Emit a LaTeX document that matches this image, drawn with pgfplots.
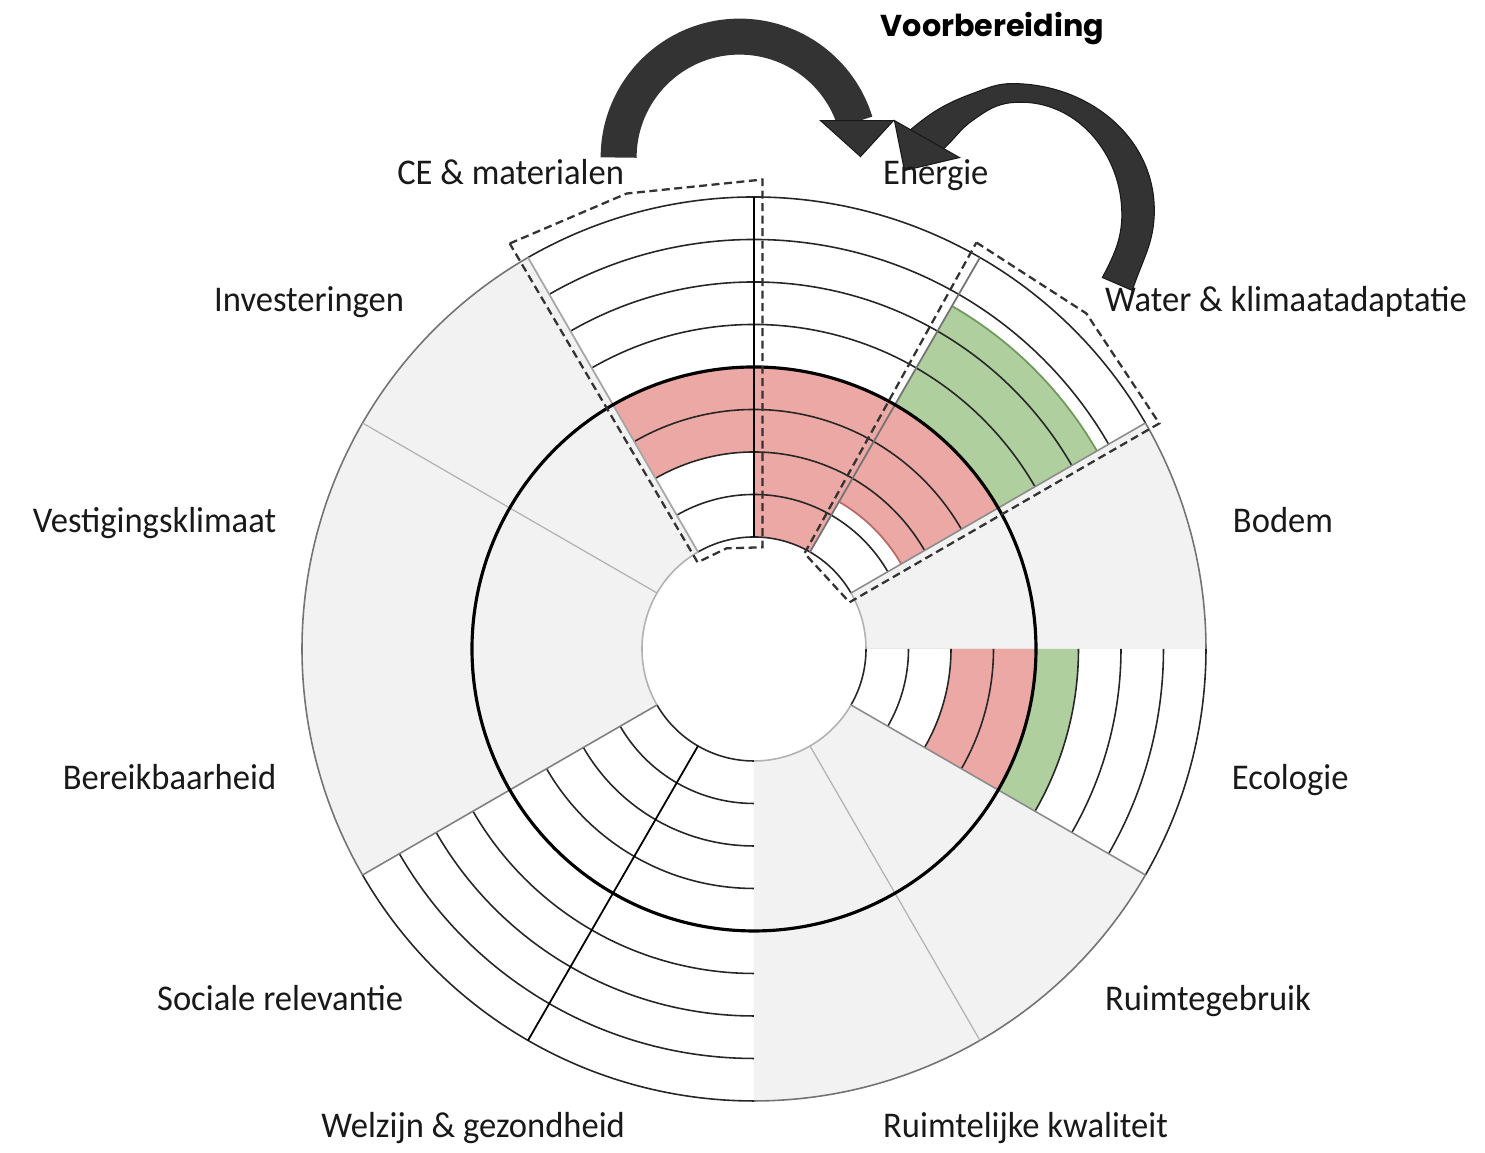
\documentclass[border=0pt]{standalone}
\usepackage{fontspec}
\setmainfont{Carlito}
\newfontfamily\labelfont{Carlito}[FakeStretch=0.955]
\newfontfamily\titlefont{Poppins}
\usepackage{pgfplots}
\pgfplotsset{compat=1.18}
\usepgfplotslibrary{polar}
\definecolor{grayfill}{HTML}{F2F2F2}
\definecolor{redfill}{HTML}{EBA8A4}
\definecolor{rededge}{HTML}{B86A66}
\definecolor{greenfill}{HTML}{AFCF9E}
\definecolor{greenedge}{HTML}{6E9A5A}
\definecolor{arrowcol}{HTML}{333333}
\begin{document}
\begin{tikzpicture}
\path[use as bounding box] (0,0) rectangle (14.85cm,11.53cm);
\begin{polaraxis}[
  at={(7.54cm,5.04cm)}, anchor=center,
  width=9.04cm, height=9.04cm, scale only axis,
  xmin=0, xmax=360, ymin=0, ymax=452,
  hide axis, clip=false,
]
% ---- grey (not assessed) sectors: Bodem, Ruimtegebruik + Ruimtelijke kwaliteit, Bereikbaarheid + Vestigingsklimaat + Investeringen
\addplot[draw=none, fill=grayfill, domain=0:30, samples=31] {452} -- (axis cs:0,0) -- cycle;
\addplot[draw=none, fill=grayfill, domain=-90:-30, samples=61] {452} -- (axis cs:0,0) -- cycle;
\addplot[draw=none, fill=grayfill, domain=120:210, samples=91] {452} -- (axis cs:0,0) -- cycle;
% ---- Water & klimaatadaptatie (30-60): red 170-282, green 282-396
\addplot[draw=none, fill=greenfill, domain=30:60, samples=31] {396} -- (axis cs:0,0) -- cycle;
\addplot[draw=none, fill=redfill, domain=30:60, samples=31] {282} -- (axis cs:0,0) -- cycle;
\addplot[draw=none, fill=white, domain=30:60, samples=31] {170} -- (axis cs:0,0) -- cycle;
% ---- Energie (60-90): red 112-282
\addplot[draw=none, fill=redfill, domain=60:90, samples=31] {282} -- (axis cs:0,0) -- cycle;
% ---- CE & materialen (90-120): red 197-282
\addplot[draw=none, fill=redfill, domain=90:120, samples=31] {282} -- (axis cs:0,0) -- cycle;
\addplot[draw=none, fill=white, domain=90:120, samples=31] {197} -- (axis cs:0,0) -- cycle;
% ---- Ecologie (-30-0): red 197-282, green 282-324.5
\addplot[draw=none, fill=greenfill, domain=-30:0, samples=31] {324.5} -- (axis cs:0,0) -- cycle;
\addplot[draw=none, fill=redfill, domain=-30:0, samples=31] {282} -- (axis cs:0,0) -- cycle;
\addplot[draw=none, fill=white, domain=-30:0, samples=31] {197} -- (axis cs:0,0) -- cycle;
% ---- central hole
\addplot[draw=none, fill=white, domain=0:360, samples=181] {112} -- cycle;
% ---- band edges
\addplot[greenedge, line width=0.5pt, domain=30:60, samples=31] {396};
\addplot[rededge, line width=0.5pt, domain=30:60, samples=31] {170};
% ---- ring lines in assessed sectors
\pgfplotsinvokeforeach{112,154.5,197,239.5,324.5,367,409.5,452}{
  \addplot[black!85, line width=0.45pt, domain=30:120, samples=91] {#1};
  \addplot[black!85, line width=0.45pt, domain=-30:0, samples=31] {#1};
  \addplot[black!85, line width=0.45pt, domain=-150:-90, samples=61] {#1};
}
% ---- outer and inner edges of grey sectors
\pgfplotsinvokeforeach{0:30,-90:-30,120:210}{
  \addplot[black!55, line width=0.45pt, domain=#1, samples=91] {452};
  \addplot[black!30, line width=0.45pt, domain=#1, samples=91] {112};
}
% ---- radial sector boundaries
\addplot[black, line width=0.5pt] coordinates {(90,112) (90,452)};
\addplot[black, line width=0.5pt] coordinates {(-120,112) (-120,452)};
\addplot[black!55, line width=0.5pt] coordinates {(60,112) (60,452)};
\addplot[black!35, line width=0.5pt] coordinates {(120,112) (120,452)};
\addplot[black!45, line width=0.45pt] coordinates {(30,112) (30,452)};
\addplot[black!45, line width=0.45pt] coordinates {(-30,112) (-30,452)};
\addplot[black!30, line width=0.35pt] coordinates {(-60,112) (-60,452)};
\addplot[black!50, line width=0.45pt] coordinates {(-150,112) (-150,452)};
\addplot[black!30, line width=0.35pt] coordinates {(150,112) (150,452)};
% ---- reference circle
\addplot[black, line width=0.9pt, domain=0:360, samples=361] {282};
\end{polaraxis}
\begin{scope}[x=0.01cm, y=0.01cm]
% dashed selection boxes
\draw[arrowcol, line width=0.65pt, dash pattern=on 0.08cm off 0.045cm]
  (510,910) -- (627,960) -- (763,974) -- (763,606) -- (727,605) -- (698,591) -- cycle;
\draw[arrowcol, line width=0.65pt, dash pattern=on 0.08cm off 0.045cm]
  (977,911) -- (1087,840) -- (1160,730) -- (850,551) -- (805,600) -- cycle;
% curved arrows
\draw[arrowcol, line width=0.36cm] (740,996) ++(180:121) arc[start angle=180, end angle=17, radius=121];
\fill[arrowcol, draw=black!90, line width=0.3pt] (821,1033) -- (894,1033) -- (861,997) -- cycle;
\fill[arrowcol, draw=black!90, line width=0.3pt]
  (1133,863) to[out=72,in=-90] (1155,943) to[out=90,in=0] (1013,1070)
  to[out=180,in=20] (973,1060) to[out=200,in=40] (910,1023) -- (943,1004)
  to[out=40,in=215] (973,1033) to[out=35,in=185] (1013,1051)
  to[out=5,in=95] (1122,950)
  to[out=-85,in=62] (1103,876) -- cycle;
\fill[arrowcol, draw=black!90, line width=0.3pt] (895,1033) -- (960,996) -- (905,983) -- cycle;
% labels
\begin{scope}[every node/.style={inner sep=0pt, text=black!90, font=\labelfont\fontsize{10.3}{12}\selectfont}]
\node[anchor=base west] at (1105,842) {Water \& klimaatadaptatie};
\node[anchor=base west] at (1233,621) {Bodem};
\node[anchor=base west] at (1232,364) {Ecologie};
\node[anchor=base west] at (1105,143) {Ruimtegebruik};
\node[anchor=base west] at (883,969) {Energie};
\node[anchor=base west] at (883,15) {Ruimtelijke kwaliteit};
\node[anchor=base east] at (625,969) {CE \& materialen};
\node[anchor=base east] at (405,842) {Investeringen};
\node[anchor=base east] at (277,621) {Vestigingsklimaat};
\node[anchor=base east] at (277,364) {Bereikbaarheid};
\node[anchor=base east] at (404,143) {Sociale relevantie};
\node[anchor=base east] at (626,15) {Welzijn \& gezondheid};
\end{scope}
\node[inner sep=0pt, anchor=base, font=\titlefont\bfseries\fontsize{8.6}{10}\selectfont] at (993,1117) {Voorbereiding};
\end{scope}
\end{tikzpicture}
\end{document}
